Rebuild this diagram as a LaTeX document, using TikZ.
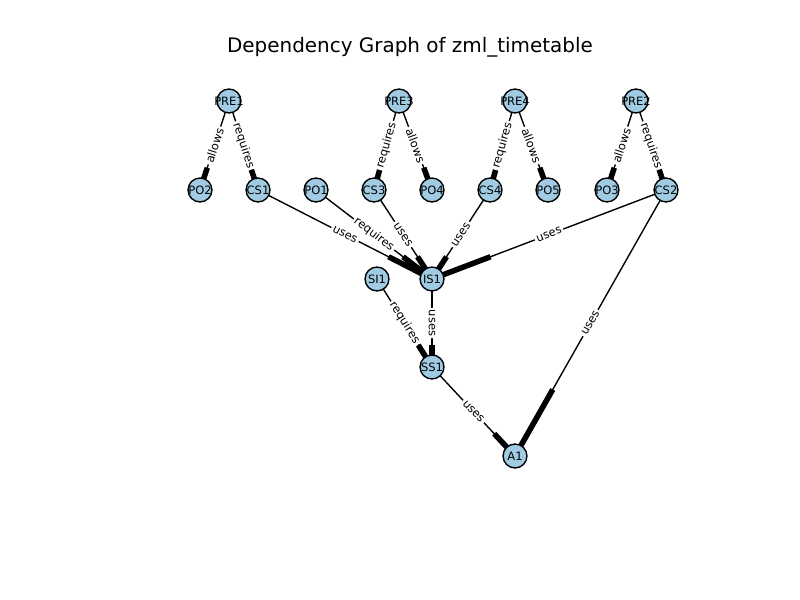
\documentclass[tikz,border=0pt]{standalone}
\usepackage{fontspec}
\setmainfont{DejaVu Sans}
\usetikzlibrary{calc}
\pgfdeclarelayer{bg}
\pgfsetlayers{bg,main}
\definecolor{nodeblue}{RGB}{160,203,226}
\newlength{\pxu}
\setlength{\pxu}{0.72pt}
\tikzset{
  gnode/.style={circle, draw=black, line width=1pt, fill=nodeblue, minimum size=24\pxu, inner sep=0pt,
    label={[nlabel]center:#1}},
  nlabel/.style={inner sep=0pt, font=\fontsize{8.3}{9}\selectfont},
  edgeline/.style={line width=1pt, black},
  arrowpart/.style={line width=4pt, black, line cap=butt},
  elabel/.style={midway, sloped, fill=white, rounded corners=2pt, inner sep=1.4pt, font=\fontsize{8.3}{9}\selectfont},
  titletext/.style={font=\fontsize{14.4}{16}\selectfont}
}
\newcommand\depedge[3]{%
  \begin{pgfonlayer}{bg}
    \draw[edgeline] (#1.center) -- (#2.center);
    \draw[arrowpart] ($(#1.center)!0.75!(#2.center)$) -- (#2.center);
  \end{pgfonlayer}
  \path (#1.center) -- node[elabel]{#3} (#2.center);
}
\begin{document}
\begin{tikzpicture}[x=0.01in, y=-0.01in]
\useasboundingbox (0,0) rectangle (800,600);
\node[titletext] (title) at (410,47) {Dependency Graph of zml\_timetable};
% nodes
\node[gnode=PRE1] (PRE1) at (229,101) {};
\node[gnode=PRE3] (PRE3) at (399,101) {};
\node[gnode=PRE4] (PRE4) at (515,101) {};
\node[gnode=PRE2] (PRE2) at (636,101) {};
\node[gnode=PO2] (PO2) at (200,190) {};
\node[gnode=CS1] (CS1) at (258,190) {};
\node[gnode=PO1] (PO1) at (316,190) {};
\node[gnode=CS3] (CS3) at (374,190) {};
\node[gnode=PO4] (PO4) at (432,190) {};
\node[gnode=CS4] (CS4) at (490,190) {};
\node[gnode=PO5] (PO5) at (548,190) {};
\node[gnode=PO3] (PO3) at (607,190) {};
\node[gnode=CS2] (CS2) at (666,190) {};
\node[gnode=SI1] (SI1) at (377,279) {};
\node[gnode=IS1] (IS1) at (432,279) {};
\node[gnode=SS1] (SS1) at (432,367) {};
\node[gnode=A1] (A1) at (515,456) {};
% edges
\depedge{PRE1}{PO2}{allows}
\depedge{PRE1}{CS1}{requires}
\depedge{PRE3}{CS3}{requires}
\depedge{PRE3}{PO4}{allows}
\depedge{PRE4}{CS4}{requires}
\depedge{PRE4}{PO5}{allows}
\depedge{PRE2}{PO3}{allows}
\depedge{PRE2}{CS2}{requires}
\depedge{CS1}{IS1}{uses}
\depedge{PO1}{IS1}{requires}
\depedge{CS3}{IS1}{uses}
\depedge{CS4}{IS1}{uses}
\depedge{CS2}{IS1}{uses}
\depedge{IS1}{SS1}{uses}
\depedge{SI1}{SS1}{requires}
\depedge{SS1}{A1}{uses}
\depedge{CS2}{A1}{uses}
\end{tikzpicture}
\end{document}
